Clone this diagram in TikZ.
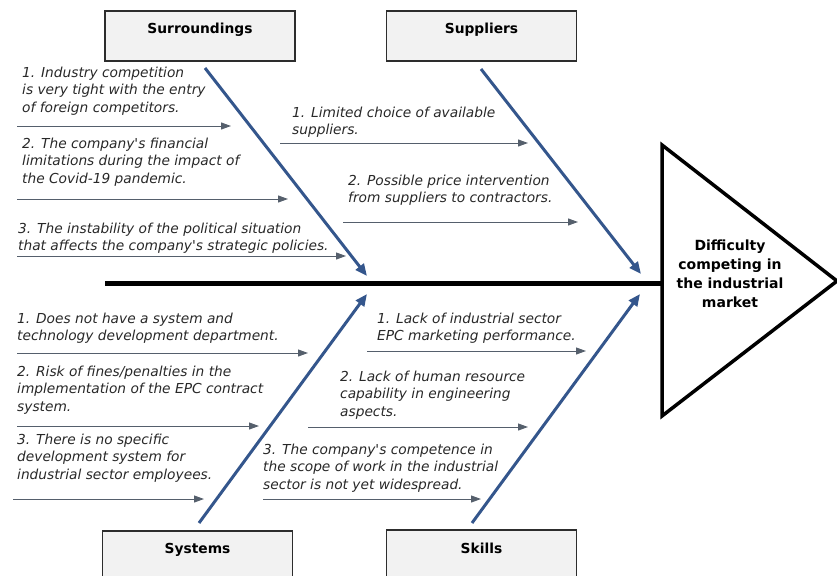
\documentclass[tikz,border=0pt]{standalone}
\usepackage{fontspec}
\setmainfont{DejaVu Sans}
\usetikzlibrary{arrows.meta}
\definecolor{bonecol}{RGB}{52,86,140}
\definecolor{subcol}{RGB}{85,95,108}
\definecolor{boxfill}{RGB}{242,242,242}
\definecolor{boxline}{RGB}{45,45,45}
\definecolor{txtcol}{RGB}{40,40,40}
\newcommand{\apos}{\textquotesingle}
\begin{document}
\begin{tikzpicture}[x=1pt,y=-1pt,
  catbox/.style={draw=boxline, line width=1.6pt, fill=boxfill, minimum width=190pt, minimum height=50pt, inner sep=0pt},
  catlabel/.style={font=\fontsize{13.8}{16}\selectfont\bfseries, text=black, inner sep=0pt},
  bone/.style={draw=bonecol, line width=3pt, -{Triangle[length=12pt,width=10pt]}},
  subarrow/.style={draw=subcol, line width=1pt, -{Triangle[length=10pt,width=7pt]}},
  cause/.style={font=\fontsize{13.75}{17.5}\selectfont\itshape, text=txtcol, align=left, anchor=north west, inner sep=0pt},
  spine/.style={draw=black, line width=5pt},
  effect/.style={draw=black, line width=3.5pt, fill=white, line join=miter},
  efftext/.style={font=\fontsize{14}{19}\selectfont\bfseries, text=black, align=center, inner sep=0pt}
]
\clip (0,0) rectangle (837,575);
\useasboundingbox (0,0) rectangle (837,575);

% category boxes
\node[catbox] (surr) at (200,36) {};
\node[catbox] (supp) at (481.5,36) {};
\node[catbox] (sys) at (197.5,556) {};
\node[catbox] (sk) at (481.5,555) {};
\node[catlabel] (surrl) at (200,30) {Surroundings};
\node[catlabel] (suppl) at (481.5,30) {Suppliers};
\node[catlabel] (sysl) at (197.5,550) {Systems};
\node[catlabel] (skl) at (481.5,548) {Skills};

% spine and head
\coordinate (tA) at (662,145);
\coordinate (tB) at (662,416);
\coordinate (tC) at (837,281);
\coordinate (spinestart) at (105,283);
\coordinate (spineend) at (662,283);
\draw[spine] (spinestart) -- (spineend);
\draw[effect] (tA) -- (tC) -- (tB) -- cycle;
\node[efftext] (eff) at (730,274) {Difficulty\\competing in\\the industrial\\market};

% main bones
\coordinate (b1s) at (205,68);  \coordinate (b1e) at (367,276);
\coordinate (b2s) at (481,69);  \coordinate (b2e) at (641,274);
\coordinate (b3s) at (199,523); \coordinate (b3e) at (367,294);
\coordinate (b4s) at (472,523); \coordinate (b4e) at (640,294);
\draw[bone] (b1s) -- (b1e);
\draw[bone] (b2s) -- (b2e);
\draw[bone] (b3s) -- (b3e);
\draw[bone] (b4s) -- (b4e);

% sub arrows
\coordinate (a1s) at (17,126);  \coordinate (a1e) at (231,126);
\coordinate (a2s) at (17,199);  \coordinate (a2e) at (288,199);
\coordinate (a3s) at (17,256);  \coordinate (a3e) at (346,256);
\coordinate (a4s) at (280,143); \coordinate (a4e) at (528,143);
\coordinate (a5s) at (343,222); \coordinate (a5e) at (578,222);
\coordinate (a6s) at (17,353);  \coordinate (a6e) at (308,353);
\coordinate (a7s) at (17,426);  \coordinate (a7e) at (259,426);
\coordinate (a8s) at (13,499);  \coordinate (a8e) at (204,499);
\coordinate (a9s) at (367,351); \coordinate (a9e) at (586,351);
\coordinate (a10s) at (308,427); \coordinate (a10e) at (528,427);
\coordinate (a11s) at (263,499); \coordinate (a11e) at (481,499);
\foreach \i in {1,...,11} {\draw[subarrow] (a\i s) -- (a\i e);}

% cause texts
\node[cause] (c1) at (22,66.5) {1. Industry competition\\is very tight with the entry\\of foreign competitors.};
\node[cause] (c2) at (22,137.5) {2. The company\apos{}s financial\\limitations during the impact of\\the Covid-19 pandemic.};
\node[cause] (c3) at (18,222.5) {3. The instability of the political situation\\that affects the company\apos{}s strategic policies.};
\node[cause] (c4) at (292,106.5) {1. Limited choice of available\\suppliers.};
\node[cause] (c5) at (348,174.5) {2. Possible price intervention\\from suppliers to contractors.};
\node[cause] (c6) at (17,312.5) {1. Does not have a system and\\technology development department.};
\node[cause] (c7) at (17,365.5) {2. Risk of fines/penalties in the\\implementation of the EPC contract\\system.};
\node[cause] (c8) at (17,433.5) {3. There is no specific\\development system for\\industrial sector employees.};
\node[cause] (c9) at (377,312.5) {1. Lack of industrial sector\\EPC marketing performance.};
\node[cause] (c10) at (340,370.5) {2. Lack of human resource\\capability in engineering\\aspects.};
\node[cause] (c11) at (263,443.5) {3. The company\apos{}s competence in\\the scope of work in the industrial\\sector is not yet widespread.};
\end{tikzpicture}
\end{document}
